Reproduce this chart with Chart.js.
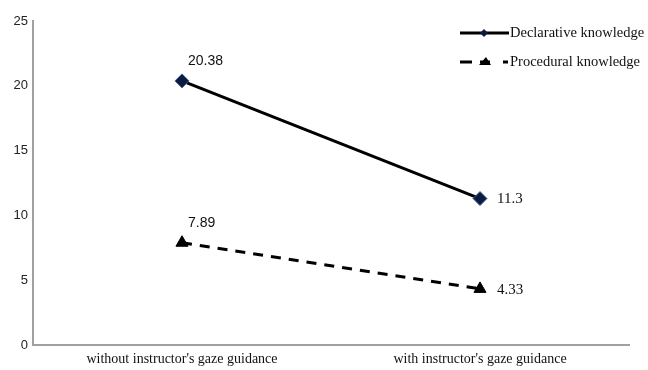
<!DOCTYPE html>
<html>
<head>
<meta charset="utf-8">
<script src="https://cdn.jsdelivr.net/npm/chart.js@4.4.0/dist/chart.umd.min.js"></script>
<style>
	html, body { margin: 0; padding: 0; background: #fff; }
	#wrap { width: 648px; height: 370px; position: relative; }
</style>
</head>
<body>
<div id="wrap"><canvas id="myChart"></canvas></div>
<script>
"use strict";

// values
const categories = ["without instructor's gaze guidance", "with instructor's gaze guidance"];
const declarative = [20.38, 11.3];
const procedural = [7.89, 4.33];
const seriesNames = ["Declarative knowledge", "Procedural knowledge"];
const yTicks = [0, 5, 10, 15, 20, 25];

// value labels next to each point
const pointLabels = {
	id: 'pointLabels',
	afterDatasetsDraw(chart) {
		const ctx = chart.ctx;
		ctx.save();
		ctx.fillStyle = '#111';
		ctx.textBaseline = 'middle';
		chart.data.datasets.forEach(function (ds, i) {
			const meta = chart.getDatasetMeta(i);
			meta.data.forEach(function (pt, j) {
				const txt = String(ds.data[j]);
				if (j === 0) {
					ctx.font = '14px "Liberation Sans", Arial, sans-serif';
					ctx.fillText(txt, pt.x + 6, pt.y - 20);
				} else {
					ctx.font = '15px "Liberation Serif", "Times New Roman", serif';
					ctx.fillText(txt, pt.x + 17, pt.y + 1);
				}
			});
		});
		ctx.restore();
	}
};

// legend in the upper right, drawn like the original
const sideLegend = {
	id: 'sideLegend',
	afterDraw(chart) {
		const ctx = chart.ctx;
		const x0 = 460, x1 = 509;
		const rows = [33, 62];
		ctx.save();
		ctx.strokeStyle = '#000';
		ctx.lineWidth = 3;
		// declarative
		ctx.beginPath();
		ctx.moveTo(x0, rows[0]); ctx.lineTo(x1, rows[0]);
		ctx.stroke();
		ctx.fillStyle = '#0d1b3d';
		ctx.beginPath();
		ctx.moveTo(484, rows[0] - 4); ctx.lineTo(488, rows[0]);
		ctx.lineTo(484, rows[0] + 4); ctx.lineTo(480, rows[0]);
		ctx.closePath(); ctx.fill();
		// procedural
		ctx.beginPath();
		ctx.moveTo(x0, rows[1]); ctx.lineTo(472, rows[1]);
		ctx.moveTo(480, rows[1]); ctx.lineTo(490, rows[1]);
		ctx.moveTo(503, rows[1]); ctx.lineTo(508, rows[1]);
		ctx.stroke();
		ctx.fillStyle = '#000';
		ctx.beginPath();
		ctx.moveTo(486, rows[1] - 5); ctx.lineTo(491, rows[1] + 3);
		ctx.lineTo(479, rows[1] + 3);
		ctx.closePath(); ctx.fill();

		ctx.fillStyle = '#111';
		ctx.font = '14.5px "Liberation Serif", "Times New Roman", serif';
		ctx.textBaseline = 'middle';
		ctx.fillText(seriesNames[0], 510, rows[0]);
		ctx.fillText(seriesNames[1], 510, rows[1]);
		ctx.restore();
	}
};

const ctx = document.getElementById('myChart');

new Chart(ctx, {
	type: 'line',
	data: {
		labels: categories,
		datasets: [{
			label: seriesNames[0],
			data: declarative,
			borderColor: '#000',
			borderWidth: 3,
			pointStyle: 'rectRot',
			pointRadius: 7,
			pointBackgroundColor: '#0d1b3d',
			pointBorderColor: '#3b5fa8',
			pointBorderWidth: 1
		}, {
			label: seriesNames[1],
			data: procedural,
			borderColor: '#000',
			borderWidth: 3,
			borderDash: [10, 8],
			pointStyle: 'triangle',
			pointRadius: 7,
			pointBackgroundColor: '#000',
			pointBorderColor: '#000',
			pointBorderWidth: 1
		}]
	},
	options: {
		responsive: true,
		maintainAspectRatio: false,
		animation: false,
		layout: { padding: { top: 21, right: 19, left: 0, bottom: 0 } },
		plugins: {
			legend: { display: false },
			tooltip: { enabled: false }
		},
		scales: {
			x: {
				offset: true,
				grid: { display: false, drawTicks: false },
				border: { display: true, color: '#a0a0a0', width: 2 },
				ticks: {
					color: '#111',
					padding: 6,
					maxRotation: 0,
					font: { family: '"Liberation Serif", "Times New Roman", serif', size: 14 }
				},
				afterFit(scale) { scale.height = 25; }
			},
			y: {
				min: 0,
				max: 25,
				afterBuildTicks(scale) { scale.ticks = yTicks.map(v => ({ value: v })); },
				grid: { display: false, drawTicks: false },
				border: { display: true, color: '#a0a0a0', width: 2 },
				ticks: {
					color: '#222',
					padding: 5,
					font: { family: '"Liberation Sans", Arial, sans-serif', size: 13 }
				},
				afterFit(scale) { scale.width = 33; }
			}
		}
	},
	plugins: [pointLabels, sideLegend]
});
</script>
</body>
</html>
